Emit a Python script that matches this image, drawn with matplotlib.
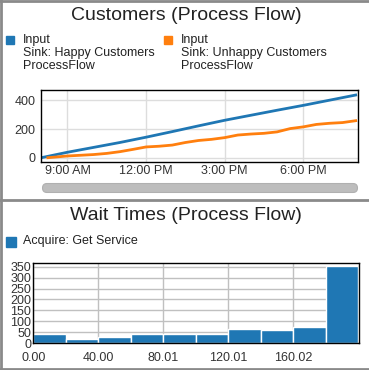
import matplotlib.pyplot as plt
from matplotlib.lines import Line2D
from matplotlib.patches import FancyBboxPatch, Rectangle

plt.rcParams['font.family'] = ['Liberation Sans', 'DejaVu Sans']

# customers chart (hours of day)
happy_hours = [8, 9, 10, 11, 12, 13, 14, 15, 16, 17, 18, 19, 20]
happy_counts = [0, 38, 72, 106, 143, 182, 222, 261, 296, 331, 365, 401, 437]
unhappy_hours = [8.25, 8.5, 9, 9.5, 10, 10.5, 11, 11.5, 12, 12.5, 13, 13.5, 14,
                 14.5, 15, 15.5, 16, 16.5, 17, 17.5, 18, 18.5, 19, 19.5, 20]
unhappy_counts = [0, 4, 12, 17, 22, 30, 42, 58, 75, 80, 88, 106, 120,
                  128, 140, 158, 165, 170, 180, 203, 215, 232, 240, 245, 258]
time_ticks = [9, 12, 15, 18]
time_labels = ['9:00 AM', '12:00 PM', '3:00 PM', '6:00 PM']
series_labels = ['Input\nSink: Happy Customers\nProcessFlow',
                 'Input\nSink: Unhappy Customers\nProcessFlow']

# wait time histogram
bin_width = 20.002
wait_counts = [42, 19, 29, 42, 42, 42, 65, 61, 74, 353]
wait_label = 'Acquire: Get Service'

blue = '#1f77b4'
orange = '#ff7f0e'
W, H = 369, 370


def fx(px):
    return px / W


def fy(py):
    return 1 - py / H


fig = plt.figure(figsize=(W / 100, H / 100), dpi=100)

# card borders
border = '#8a8a8a'
for xs, ys, lw in [([0, 1], [fy(0.5)] * 2, 2), ([fx(0.7)] * 2, [0, 1], 2),
                   ([0, 1], [fy(200)] * 2, 2), ([0, 1], [fy(368.5)] * 2, 2)]:
    fig.add_artist(Line2D(xs, ys, color=border, lw=lw))

# ---- top panel ----
fig.text(fx(186), fy(16), 'Customers (Process Flow)', ha='center', va='center',
         fontsize=14, color='#222222')
for x0, col, lab in [(6, blue, series_labels[0]), (164, orange, series_labels[1])]:
    fig.add_artist(Rectangle((fx(x0), fy(44)), fx(8), 8 / H, color=col))
    fig.text(fx(x0 + 17), fy(34), lab, ha='left', va='top', fontsize=9,
             color='#222222', linespacing=1.12)

ax1 = fig.add_axes([fx(41.3), fy(162), fx(358.3 - 41.3), (162 - 90.3) / H])
ax1.plot(happy_hours, happy_counts, color=blue, lw=2)
ax1.plot(unhappy_hours, unhappy_counts, color=orange, lw=2)
ax1.set_xlim(8.0, 20.1)
ax1.set_ylim(-30, 470)
ax1.set_xticks(time_ticks, time_labels)
ax1.set_yticks([0, 200, 400])
ax1.grid(color='#dddddd', lw=1)
ax1.set_axisbelow(True)
ax1.tick_params(length=0, labelsize=9, labelcolor='#333333')
ax1.tick_params(axis='x', pad=2.5)
ax1.tick_params(axis='y', pad=4)
for s in ax1.spines.values():
    s.set_color('black')
    s.set_linewidth(1)

# scrollbar
fig.add_artist(FancyBboxPatch((fx(44), fy(191)), fx(312), 6 / H,
                              boxstyle='round,pad=0.004,rounding_size=0.012',
                              fc='#bdbdbd', ec='#b0b0b0', lw=0.8))

# ---- bottom panel ----
fig.text(fx(186), fy(215.5), 'Wait Times (Process Flow)', ha='center', va='center',
         fontsize=14, color='#222222')
fig.add_artist(Rectangle((fx(6), fy(247)), fx(10), 10 / H, color=blue))
fig.text(fx(23), fy(241), wait_label, ha='left', va='center', fontsize=9,
         color='#222222')

ax2 = fig.add_axes([fx(33.3), fy(343.3), fx(359 - 33.3), (343.3 - 263.3) / H])
edges = [i * bin_width for i in range(len(wait_counts) + 1)]
ax2.bar(edges[:-1], wait_counts, width=bin_width, align='edge', color=blue,
        edgecolor='white', lw=1)
ax2.set_xlim(0, 200.5)
ax2.set_ylim(0, 365)
ax2.set_xticks(edges[0:10:2], ['%.2f' % e for e in edges[0:10:2]])
ax2.set_yticks(range(0, 351, 50))
ax2.grid(color='#c0c0c0', lw=1)
ax2.set_axisbelow(True)
ax2.tick_params(length=0, labelsize=9, labelcolor='#333333')
ax2.tick_params(axis='x', pad=6)
ax2.tick_params(axis='y', pad=1.5)
for s in ax2.spines.values():
    s.set_color('black')
    s.set_linewidth(1)

fig.savefig('out.png', dpi=100)
